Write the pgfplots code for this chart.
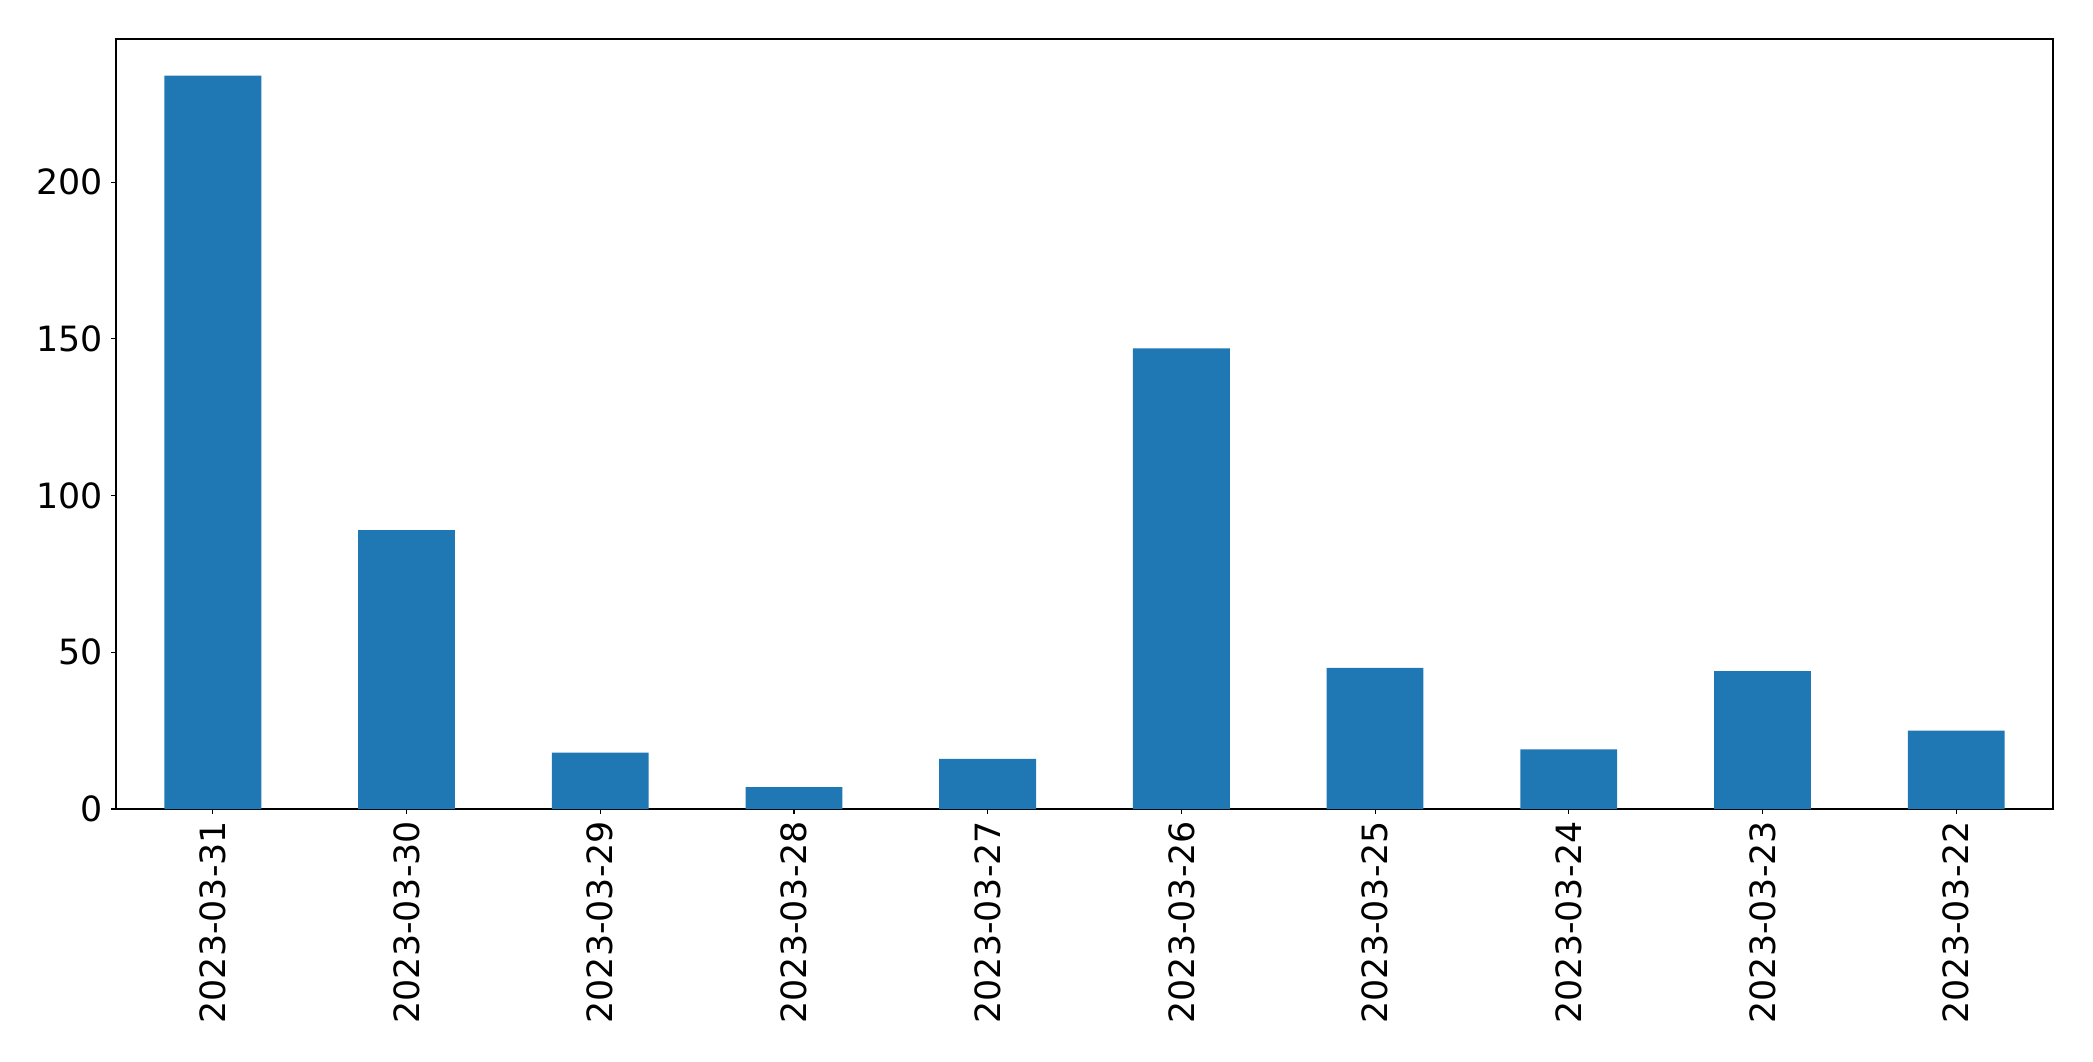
\documentclass[border=0pt]{standalone}
\usepackage{pgfplots}
\pgfplotsset{compat=1.18}
\usepackage{fontspec}
\setmainfont{DejaVu Sans}
\definecolor{mplblue}{HTML}{1F77B4}
\begin{document}
\begin{tikzpicture}
\useasboundingbox (-58pt,-126pt) rectangle (988.5pt,404.5pt);
\begin{axis}[
  at={(0pt,0pt)}, anchor=south west,
  scale only axis,
  width=968.5pt, height=385pt,
  xmin=-0.5, xmax=9.5,
  ymin=0, ymax=245.7,
  xtick={0,...,9},
  xticklabels={2023-03-31,2023-03-30,2023-03-29,2023-03-28,2023-03-27,2023-03-26,2023-03-25,2023-03-24,2023-03-23,2023-03-22},
  ytick={0,50,100,150,200},
  tick align=outside,
  tick pos=left,
  major tick length=2.5pt,
  axis line style={line width=0.55pt},
  every tick/.style={black, line width=0.55pt},
  /pgf/number format/assume math mode=true,
  ticklabel style={font=\fontsize{17.4}{20}\selectfont},
  xticklabel style={rotate=90, anchor=east},
  yticklabel style={xshift=-0.5pt},
  scaled y ticks=false,
  clip=false,
]
\addplot[ybar, bar width=0.5, bar shift=0pt, fill=mplblue, draw=none] coordinates {
  (0,234) (1,89) (2,18) (3,7) (4,16) (5,147) (6,45) (7,19) (8,44) (9,25)
};
\end{axis}
\end{tikzpicture}
\end{document}
